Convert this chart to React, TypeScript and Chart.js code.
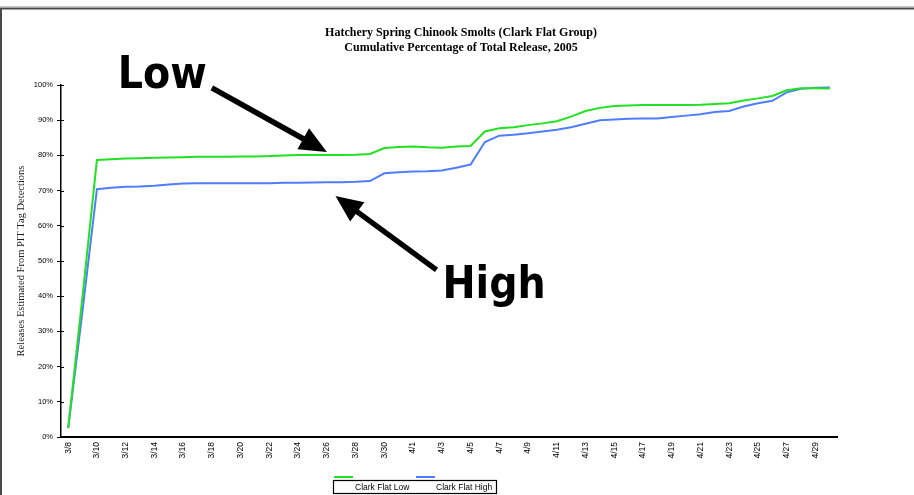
import { useEffect, useRef } from 'react';
import { Chart, registerables } from 'chart.js';

Chart.register(...registerables);

const titleLines = [
  'Hatchery Spring Chinook Smolts (Clark Flat Group)',
  'Cumulative Percentage of Total Release, 2005',
];
const yAxisTitle = 'Releases Estimated From PIT Tag Detections';

const dates = [
  '3/8', '3/9', '3/10', '3/11', '3/12', '3/13', '3/14', '3/15', '3/16', '3/17',
  '3/18', '3/19', '3/20', '3/21', '3/22', '3/23', '3/24', '3/25', '3/26', '3/27',
  '3/28', '3/29', '3/30', '3/31', '4/1', '4/2', '4/3', '4/4', '4/5', '4/6',
  '4/7', '4/8', '4/9', '4/10', '4/11', '4/12', '4/13', '4/14', '4/15', '4/16',
  '4/17', '4/18', '4/19', '4/20', '4/21', '4/22', '4/23', '4/24', '4/25', '4/26',
  '4/27', '4/28', '4/29', '4/30',
];

const clarkFlatLow = [
  2.5, 40, 78.7, 78.9, 79.1, 79.2, 79.3, 79.4, 79.5, 79.6,
  79.6, 79.6, 79.7, 79.7, 79.8, 80.0, 80.1, 80.1, 80.1, 80.1,
  80.2, 80.4, 82.1, 82.4, 82.5, 82.3, 82.2, 82.5, 82.7, 86.8,
  87.7, 88.0, 88.6, 89.1, 89.7, 91.0, 92.6, 93.5, 94.0, 94.2,
  94.3, 94.3, 94.3, 94.3, 94.4, 94.6, 94.8, 95.6, 96.2, 96.9,
  98.5, 99.1, 99.1, 99.0,
];

const clarkFlatHigh = [
  2.5, 36, 70.4, 70.8, 71.1, 71.2, 71.4, 71.7, 72.0, 72.1,
  72.1, 72.1, 72.1, 72.1, 72.1, 72.2, 72.2, 72.3, 72.4, 72.4,
  72.5, 72.7, 74.9, 75.2, 75.4, 75.5, 75.7, 76.5, 77.4, 83.8,
  85.6, 85.9, 86.3, 86.8, 87.3, 88.0, 89.0, 90.0, 90.2, 90.4,
  90.5, 90.5, 90.9, 91.3, 91.7, 92.3, 92.6, 93.9, 94.8, 95.5,
  97.9, 98.9, 99.2, 99.3,
];

const seriesNames = ['Clark Flat Low', 'Clark Flat High'];
const seriesColors = ['#22e022', '#4f7dff'];

const yMin = 0;
const yMax = 100;
const yStep = 10;

// annotations anchored in data coordinates (category index, percent)
const annotations = [
  { text: 'Low', tipIndex: 18, tipValue: 81.0, tailDx: -115, tailDy: -64, textDx: -209, textDy: -64 },
  { text: 'High', tipIndex: 18.6, tipValue: 68.5, tailDx: 101, tailDy: 74, textDx: 107, textDy: 102 },
];

function drawArrow(ctx: CanvasRenderingContext2D, x1: number, y1: number, x2: number, y2: number) {
  const headLen = 27;
  const headW = 12;
  const ang = Math.atan2(y2 - y1, x2 - x1);
  const c = Math.cos(ang);
  const s = Math.sin(ang);
  const bx = x2 - headLen * c;
  const by = y2 - headLen * s;
  ctx.lineWidth = 5.5;
  ctx.lineCap = 'butt';
  ctx.beginPath();
  ctx.moveTo(x1, y1);
  ctx.lineTo(bx + 2 * c, by + 2 * s);
  ctx.stroke();
  ctx.beginPath();
  ctx.moveTo(x2, y2);
  ctx.lineTo(bx + headW * s, by - headW * c);
  ctx.lineTo(bx - headW * s, by + headW * c);
  ctx.closePath();
  ctx.fill();
}

const decorPlugin = {
  id: 'decor',
  afterDraw(chart: any) {
    const ctx: CanvasRenderingContext2D = chart.ctx;
    const xs = chart.scales.x;
    const ys = chart.scales.y;
    ctx.save();

    // outer frame
    ctx.strokeStyle = '#c8c8c8';
    ctx.lineWidth = 1;
    ctx.beginPath();
    ctx.moveTo(0, 6.5);
    ctx.lineTo(914, 6.5);
    ctx.stroke();
    ctx.strokeStyle = '#4a4a4a';
    ctx.lineWidth = 2;
    ctx.beginPath();
    ctx.moveTo(0, 8.5);
    ctx.lineTo(914, 8.5);
    ctx.moveTo(1, 8);
    ctx.lineTo(1, 495);
    ctx.stroke();

    // inward part of y tick marks
    ctx.strokeStyle = '#000';
    ctx.lineWidth = 1;
    ctx.beginPath();
    for (let v = yMin; v <= yMax; v += yStep) {
      const py = Math.round(ys.getPixelForValue(v)) + 0.5;
      ctx.moveTo(ys.right, py);
      ctx.lineTo(ys.right + 3, py);
    }
    ctx.stroke();

    // title
    ctx.fillStyle = '#000';
    ctx.textAlign = 'center';
    ctx.textBaseline = 'middle';
    ctx.font = 'bold 12px "Liberation Serif", "Times New Roman", serif';
    ctx.fillText(titleLines[0], 461, 33);
    ctx.fillText(titleLines[1], 461, 48);

    // y axis title
    ctx.save();
    ctx.translate(21, (ys.top + ys.bottom) / 2);
    ctx.rotate(-Math.PI / 2);
    ctx.font = '10.5px "Liberation Serif", "Times New Roman", serif';
    ctx.fillStyle = '#222';
    ctx.fillText(yAxisTitle, 0, 0);
    ctx.restore();

    // legend
    ctx.strokeStyle = '#000';
    ctx.lineWidth = 1.2;
    ctx.strokeRect(333.5, 480.5, 163, 13);
    ctx.lineWidth = 2;
    ctx.strokeStyle = seriesColors[0];
    ctx.beginPath();
    ctx.moveTo(334, 477);
    ctx.lineTo(353, 477);
    ctx.stroke();
    ctx.strokeStyle = seriesColors[1];
    ctx.beginPath();
    ctx.moveTo(416, 477);
    ctx.lineTo(435, 477);
    ctx.stroke();
    ctx.fillStyle = '#000';
    ctx.textAlign = 'left';
    ctx.textBaseline = 'middle';
    ctx.font = '8.5px "Liberation Sans", Arial, sans-serif';
    ctx.fillText(seriesNames[0], 355, 487.5);
    ctx.fillText(seriesNames[1], 436, 487.5);

    // annotations
    ctx.fillStyle = '#000';
    ctx.strokeStyle = '#000';
    for (const a of annotations) {
      const tx = xs.getPixelForValue(a.tipIndex);
      const ty = ys.getPixelForValue(a.tipValue);
      drawArrow(ctx, tx + a.tailDx, ty + a.tailDy, tx, ty);
      ctx.font = 'bold 44px "DejaVu Sans Condensed", "DejaVu Sans", sans-serif';
      ctx.textAlign = 'left';
      ctx.textBaseline = 'alphabetic';
      ctx.fillText(a.text, tx + a.textDx, ty + a.textDy);
    }

    ctx.restore();
  },
};

export default function App() {
  const ref = useRef<HTMLCanvasElement>(null);

  useEffect(() => {
    const canvas = ref.current;
    if (!canvas) return;
    const chart = new Chart(canvas, {
      type: 'line',
      data: {
        labels: dates,
        datasets: [
          {
            label: seriesNames[0],
            data: clarkFlatLow,
            borderColor: seriesColors[0],
            backgroundColor: seriesColors[0],
            borderWidth: 2,
            pointRadius: 0,
            tension: 0,
            fill: false,
          },
          {
            label: seriesNames[1],
            data: clarkFlatHigh,
            borderColor: seriesColors[1],
            backgroundColor: seriesColors[1],
            borderWidth: 2,
            pointRadius: 0,
            tension: 0,
            fill: false,
          },
        ],
      },
      options: {
        responsive: false,
        animation: false,
        layout: { padding: { left: 0, top: 85, right: 77, bottom: 28 } },
        plugins: {
          legend: { display: false },
          title: { display: false },
          tooltip: { enabled: false },
        },
        scales: {
          x: {
            type: 'category',
            offset: true,
            grid: { display: true, drawOnChartArea: false, drawTicks: false },
            border: { display: true, color: '#000', width: 2 },
            ticks: {
              autoSkip: false,
              maxRotation: 90,
              minRotation: 90,
              padding: 5,
              color: '#000',
              font: { family: '"Liberation Sans", Arial, sans-serif', size: 8.5 },
              callback: (_v: any, i: number) => (i % 2 === 0 ? dates[i] : ''),
            },
            afterFit: (scale: any) => {
              scale.height = 30;
            },
          },
          y: {
            min: yMin,
            max: yMax,
            grid: { display: true, drawOnChartArea: false, drawTicks: true, tickLength: 4, color: '#000' },
            border: { display: true, color: '#000', width: 1.5 },
            ticks: {
              stepSize: yStep,
              padding: 4,
              color: '#000',
              font: { family: '"Liberation Sans", Arial, sans-serif', size: 7.5 },
              callback: (v: any) => `${v}%`,
            },
            afterFit: (scale: any) => {
              scale.width = 61;
            },
          },
        },
      },
      plugins: [decorPlugin],
    } as any);
    return () => chart.destroy();
  }, []);

  return (
    <div style={{ position: 'fixed', left: 0, top: 0, width: 914, height: 495, background: '#fff' }}>
      <canvas ref={ref} width={914} height={495} style={{ display: 'block', width: 914, height: 495 }} />
    </div>
  );
}
